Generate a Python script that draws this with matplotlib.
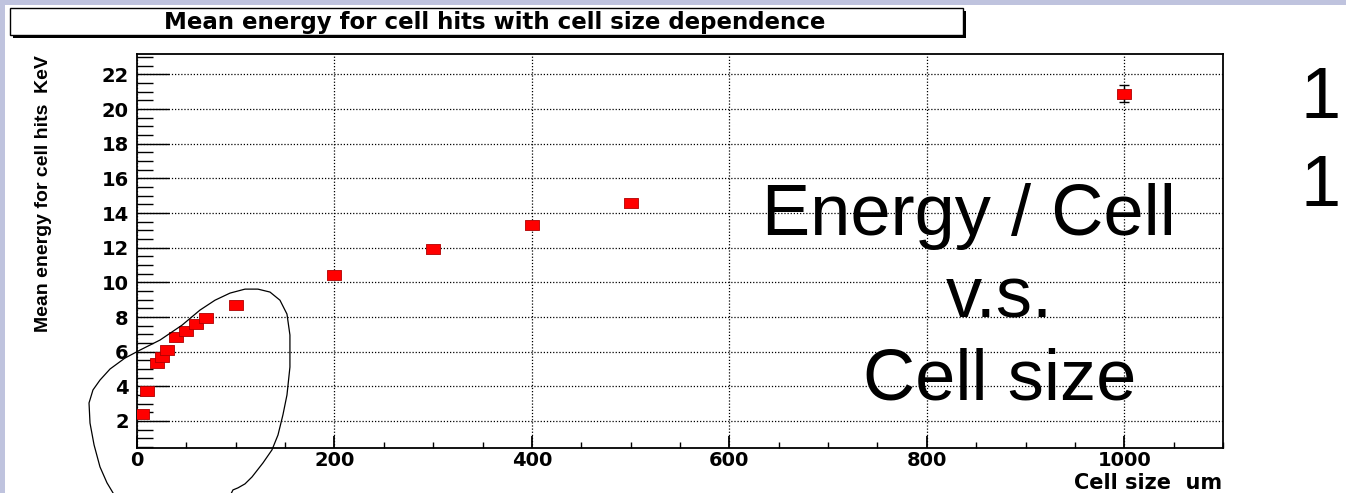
import numpy as np
import matplotlib.pyplot as plt
from matplotlib import font_manager
from matplotlib.patches import Rectangle
from matplotlib.ticker import MultipleLocator

# cell size (um) vs mean energy for cell hits (KeV)
cell_size = [5, 10, 20, 25, 30, 40, 50, 60, 70, 100, 200, 300, 400, 500, 1000]
mean_energy = [2.4, 3.75, 5.35, 5.7, 6.1, 6.85, 7.2, 7.6, 7.95, 8.7,
               10.45, 11.95, 13.3, 14.6, 20.9]
energy_err = [0.05, 0.05, 0.05, 0.05, 0.05, 0.05, 0.05, 0.05, 0.05, 0.05,
              0.1, 0.1, 0.15, 0.15, 0.5]
x_ticks = [0, 200, 400, 600, 800, 1000]
y_ticks = [2, 4, 6, 8, 10, 12, 14, 16, 18, 20, 22]

# hand drawn loop round the small cells (same units as the data)
loop_x = [-21.3, -24.3, -30.4, -37.5, -43.5, -47.6, -48.6, -44.6, -37.5, -27.3,
          -12.2, 3.0, 23.3, 45.6, 63.8, 79.0, 94.2, 109.4, 122.5, 134.7,
          144.8, 151.9, 154.9, 154.9, 151.9, 147.8, 142.8, 136.7, 127.6, 116.5,
          109.4, 102.3, 97.2, 93.2]
loop_y = [-2.55, -2.15, -1.57, -0.65, 0.62, 1.88, 3.04, 3.79, 4.36, 5.0,
          5.63, 6.09, 6.67, 7.53, 8.40, 8.97, 9.38, 9.61, 9.61, 9.44,
          8.97, 8.17, 6.96, 5.11, 3.50, 2.35, 1.19, 0.33, -0.42, -1.23,
          -1.63, -1.86, -1.98, -2.44]

W, H = 1346, 493

def fx(px):
    return px / W

def fy(py):
    return 1 - py / H

names = {f.name for f in font_manager.fontManager.ttflist}
if 'Liberation Sans Narrow' in names:
    ylab_font, ylab_size = 'Liberation Sans Narrow', 17
else:
    ylab_font, ylab_size = 'Liberation Sans', 14

plt.rcParams['font.family'] = 'DejaVu Sans'

fig = plt.figure(figsize=(W / 100, H / 100), dpi=100)
fig.patch.set_facecolor('white')

# slide background strips
fig.add_artist(Rectangle((0, fy(5)), 1, 5 / H, transform=fig.transFigure,
                         facecolor='#bfc3de', edgecolor='none'))
fig.add_artist(Rectangle((0, 0), 5 / W, 1, transform=fig.transFigure,
                         facecolor='#bfc3de', edgecolor='none'))

ax = fig.add_axes([fx(137), fy(448), fx(1223) - fx(137), fy(54) - fy(448)])
ax.set_xlim(0, 1100)
ax.set_ylim(0.44, 23.18)

ax.errorbar(cell_size, mean_energy, yerr=energy_err, fmt='none', ecolor='black',
            elinewidth=1, capsize=3.5, zorder=3)
rect = [(-1, -0.75), (1, -0.75), (1, 0.75), (-1, 0.75), (-1, -0.75)]
ax.plot(cell_size, mean_energy, linestyle='none', marker=rect, markersize=9.5,
        markerfacecolor='#ff0000', markeredgecolor='#b00000', markeredgewidth=0.6,
        zorder=4)

ax.plot(loop_x, loop_y, color='black', linewidth=0.9, clip_on=False, zorder=5)

ax.set_xticks(x_ticks)
ax.set_yticks(y_ticks)
ax.xaxis.set_minor_locator(MultipleLocator(50))
ax.yaxis.set_minor_locator(MultipleLocator(0.5))
ax.tick_params(axis='x', which='major', direction='in', length=8.6, width=1.3,
               labelsize=14, pad=2)
ax.tick_params(axis='x', which='minor', direction='in', length=4.3, width=1)
ax.tick_params(axis='y', which='major', direction='in', length=23, width=1,
               labelsize=14, pad=6)
ax.tick_params(axis='y', which='minor', direction='in', length=11.5, width=1)
for lbl in ax.get_xticklabels() + ax.get_yticklabels():
    lbl.set_fontweight('bold')

ax.grid(True, which='major', color='black', linestyle=(0, (1, 1.5)), linewidth=0.9)
ax.set_axisbelow(True)
for sp in ax.spines.values():
    sp.set_linewidth(1.3)

# axis titles
fig.text(fx(44), fy(55), 'Mean energy for cell hits  KeV', rotation=90,
         ha='center', va='top', family=ylab_font, fontweight='heavy',
         fontsize=ylab_size)
fig.text(fx(1222), fy(489), 'Cell size  um', ha='right', va='baseline',
         fontweight='bold', fontsize=15)

# title box
fig.add_artist(Rectangle((fx(13), fy(38)), fx(966) - fx(13), fy(11) - fy(38),
                         transform=fig.transFigure, facecolor='black',
                         edgecolor='none'))
fig.add_artist(Rectangle((fx(10), fy(35)), fx(963) - fx(10), fy(8) - fy(35),
                         transform=fig.transFigure, facecolor='white',
                         edgecolor='black', linewidth=1))
fig.text(fx(495), fy(22), 'Mean energy for cell hits with cell size dependence',
         ha='center', va='center', fontweight='bold', fontsize=16.5)

# slide text
slide_font = dict(family='Liberation Sans', fontsize=52, va='baseline', zorder=6)
fig.text(fx(969), fy(235), 'Energy / Cell', ha='center', **slide_font)
fig.text(fx(999), fy(317), 'v.s.', ha='center', **slide_font)
fig.text(fx(1000), fy(400), 'Cell size', ha='center', **slide_font)
fig.text(fx(1300), fy(118), '1', ha='left', **slide_font)
fig.text(fx(1300), fy(206), '1', ha='left', **slide_font)

fig.savefig('out.png', dpi=100)
